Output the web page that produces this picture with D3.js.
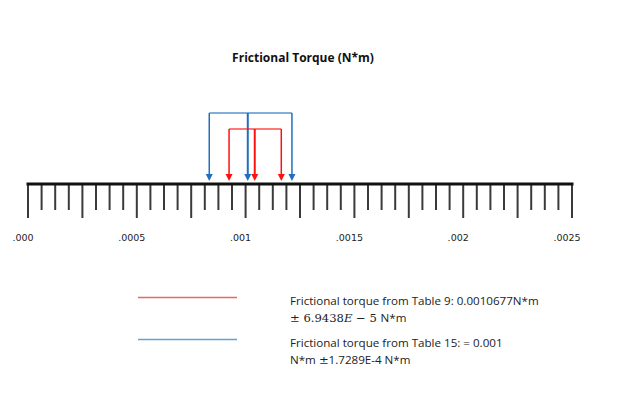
<!doctype html>
<html>
<head>
  <meta charset="UTF-8">
  <title>Frictional Torque</title>
  <script src="https://cdnjs.cloudflare.com/ajax/libs/d3/7.8.5/d3.min.js"></script>
  <style>
    body { margin: 0; background: #fff; }
    text { font-family: "Open Sans", sans-serif; }
  </style>
</head>
<body>
<div id="chart"></div>
<script>
  // axis
  var domain = [0, 0.0025],
    minorStep = 0.0000625,
    tickLabels = [".000", ".0005", ".001", ".0015", ".002", ".0025"],
    labelValues = [0, 0.0005, 0.001, 0.0015, 0.002, 0.0025];

  // brackets: [low, centre, high]
  var seriesNames = ["Table 15", "Table 9"],
    seriesColors = ["#1f6fc0", "#ff1010"],
    seriesLow = [0.000833, 0.000924],
    seriesMid = [0.00101, 0.001042],
    seriesHigh = [0.001213, 0.001164],
    bracketTop = [113, 129];

  // legend text, split in runs: [text, serif?, italic?]
  var legendLines = [
    [[["Frictional torque from Table 9: 0.0010677N*m", false, false]],
     [["\u00b1 6.9438", true, false], ["E", true, true], [" \u2212 5 ", true, false], [" N*m", false, false]]],
    [[["Frictional torque from Table 15: = 0.001", false, false]],
     [["N*m ", false, false], ["\u00b1", true, false], ["1.7289E-4 N*m", false, false]]]
  ];
  var legendColors = ["#f06464", "#5ba3dc"];

  var w = 624, h = 395,
    axisY = 184;

  var svg = d3.select("#chart").append("svg")
    .attr("width", w)
    .attr("height", h);

  var x = d3.scaleLinear().domain(domain).range([28, 572]);

  svg.append("text")
    .attr("x", 303)
    .attr("y", 62)
    .attr("text-anchor", "middle")
    .attr("font-size", "12px")
    .attr("font-weight", "bold")
    .attr("fill", "#111")
    .text("Frictional Torque (N*m)");

  // ticks
  var ticks = d3.range(0, 41).map(function(i) { return i * minorStep; });
  svg.selectAll(".tick")
    .data(ticks)
    .enter().append("line")
    .attr("class", "tick")
    .attr("x1", function(d) { return x(d); })
    .attr("x2", function(d) { return x(d); })
    .attr("y1", axisY)
    .attr("y2", function(d, i) { return i % 4 == 0 ? 218 : 210; })
    .attr("stroke", "#3a3a3a")
    .attr("stroke-width", 2);

  svg.append("line")
    .attr("x1", x(0) - 1.5)
    .attr("x2", x(0.0025) + 1.5)
    .attr("y1", axisY)
    .attr("y2", axisY)
    .attr("stroke", "#111")
    .attr("stroke-width", 3);

  svg.selectAll(".xLabel")
    .data(labelValues)
    .enter().append("text")
    .attr("class", "xLabel")
    .attr("x", function(d) { return x(d) - 5; })
    .attr("y", 241)
    .attr("text-anchor", "middle")
    .style("font-family", "DejaVu Sans, Verdana, sans-serif")
    .attr("font-size", "9.5px")
    .attr("fill", "#222")
    .text(function(d, i) { return tickLabels[i]; });

  // brackets with arrows
  var tipY = axisY - 3, headH = 7, headW = 3.5;
  seriesNames.forEach(function(name, s) {
    var c = seriesColors[s], top = bracketTop[s];
    var g = svg.append("g");
    g.append("line")
      .attr("x1", x(seriesLow[s])).attr("x2", x(seriesHigh[s]))
      .attr("y1", top).attr("y2", top)
      .attr("stroke", c).attr("stroke-width", 1.5).attr("opacity", 0.75);
    [seriesLow[s], seriesMid[s], seriesHigh[s]].forEach(function(v, k) {
      var px = x(v);
      g.append("line")
        .attr("x1", px).attr("x2", px)
        .attr("y1", top).attr("y2", tipY - headH + 1)
        .attr("stroke", c).attr("stroke-width", k == 1 ? 2 : 1.5);
      g.append("path")
        .attr("d", "M" + (px - headW) + "," + (tipY - headH) + "L" + (px + headW) + "," + (tipY - headH) + "L" + px + "," + tipY + "Z")
        .attr("fill", c);
    });
  });

  // legend
  var legendY = [297.5, 339.5];
  legendLines.forEach(function(lines, i) {
    svg.append("line")
      .attr("x1", 138).attr("x2", 237)
      .attr("y1", legendY[i]).attr("y2", legendY[i])
      .attr("stroke", legendColors[i]).attr("stroke-width", 1.3);
    lines.forEach(function(runs, j) {
      var t = svg.append("text")
        .attr("x", 290)
        .attr("y", legendY[i] + 7.5 + j * 17)
        .attr("font-size", "11.6px")
        .attr("fill", "#222");
      runs.forEach(function(r) {
        t.append("tspan")
          .style("font-family", r[1] ? "'DejaVu Serif', serif" : null)
          .style("font-style", r[2] ? "italic" : null)
          .text(r[0]);
      });
    });
  });
</script>
</body>
</html>
